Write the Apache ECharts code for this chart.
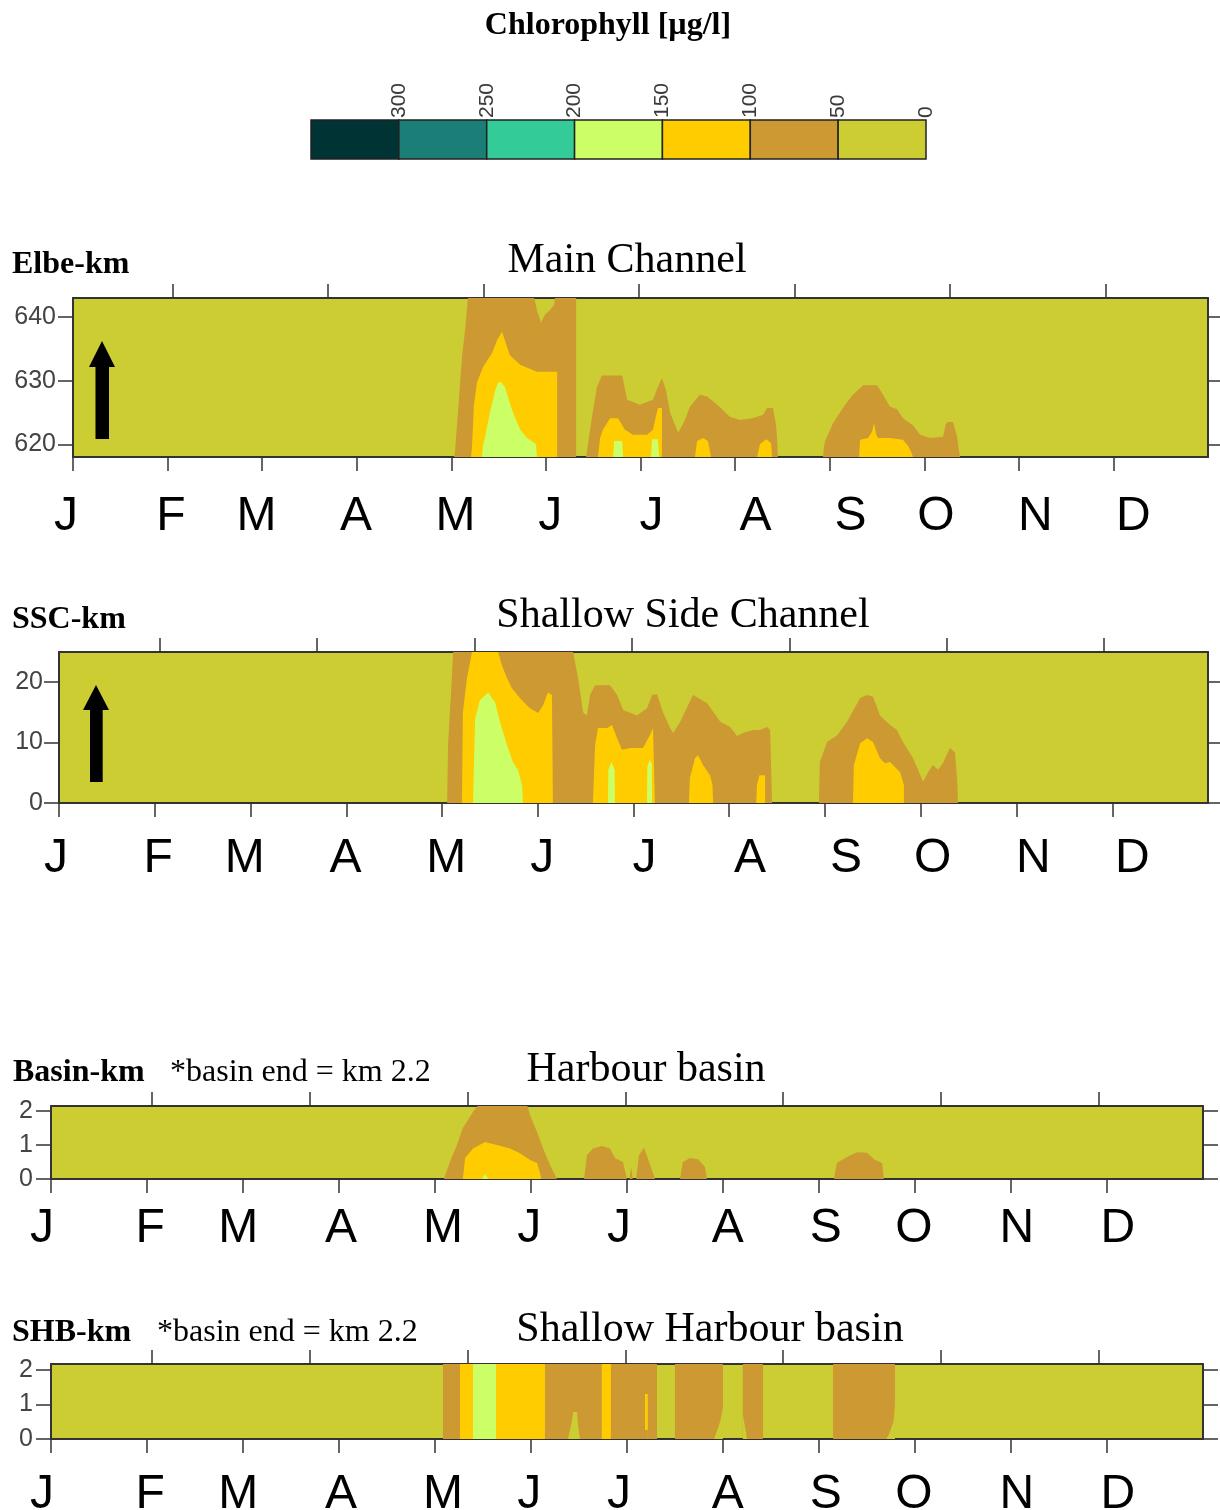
<!DOCTYPE html>
<html>
<head>
<meta charset="utf-8">
<script src="https://cdn.jsdelivr.net/npm/echarts@6/dist/echarts.min.js"></script>
<style>
  html, body { margin: 0; padding: 0; background: #ffffff; }
  #chart { width: 1220px; height: 1510px; }
</style>
</head>
<body>
<div id="chart"></div>
<script>
// ---- Colour classes (µg/l) ----
const legendLevels = ['300', '250', '200', '150', '100', '50', '0'];
const legendColors = ['#003333', '#1b7f77', '#33cc99', '#ccff66', '#ffcc00', '#cc9933', '#cccc33'];
const BASE = '#cccc33';   // 0-50
const C50 = '#cc9933';    // 50-100
const C100 = '#ffcc00';   // 100-150
const C150 = '#ccff66';   // 150-200

// ---- Time axis (day of year) ----
const monthNames = ['J', 'F', 'M', 'A', 'M', 'J', 'J', 'A', 'S', 'O', 'N', 'D'];
const monthTickDays = [0, 30.4, 60.8, 91.3, 121.7, 152.1, 182.5, 212.9, 243.3, 273.8, 304.2, 334.6];
const upperLabelDays = [0, 31.5, 59, 91, 123, 153.5, 186, 219.5, 250, 277.5, 309.5, 341];
const lowerLabelDays = [0, 31.4, 59.3, 91.9, 124.2, 151.5, 180, 214.4, 245.5, 273.4, 306, 338];
const topTickDays = [32, 82, 132, 182, 232, 282, 332];

// ---- Main Channel (Elbe-km), upper limit of each concentration class ----
const mainKmTicks = [620, 630, 640];
const mainBrown = [
  [122.5,618],[122.8,618.5],[123.8,625],[125.1,633.7],[126.1,638],[127.0,643],[148.3,643],[149.2,641.1],
  [150.5,639.1],[151.8,640.4],[153.4,641.1],[154.7,641.9],[155.0,643],[161.8,643],[161.8,618],
  [165.0,618],[165.3,619],[166.9,624.3],[168.5,629],[170.1,630.8],[176.6,630.8],[178.2,627],[182.3,626.2],
  [186.5,627],[188.1,629],[189.4,630.4],[190.7,628.5],[192.0,625],[194.6,621.8],[196.5,623.5],[198.4,625.9],
  [201.6,627.8],[203.9,627.5],[206.5,626.5],[209.0,625.4],[211.3,624.3],[214.5,623.8],[218.4,624.1],
  [221.9,624.6],[223.2,625.7],[225.1,625.7],[226.1,623],[226.4,621.1],[226.7,618],
  [241.2,618],[241.5,619.5],[241.8,620.4],[244.4,623.3],[248.3,626.2],[250.8,627.8],[254.1,629.3],
  [258.6,629.3],[260.5,627.8],[262.7,625.9],[265.0,625.5],[266.9,624.1],[270.1,623],[272.4,621.5],
  [275.6,621],[279.8,621.2],[280.7,623.2],[281.4,623.5],[283.0,623.5],[284.3,621.2],[284.9,619],[285.3,618]
];
const mainYellow = [
  [128.0,618],[128.3,619.5],[128.9,626],[129.9,629.7],[131.9,632.2],[134.8,634.4],[136.4,636.4],[138.0,637.7],
  [139.6,635.3],[140.5,634],[143.8,632.5],[149.2,631.4],[155.7,631.4],[155.7,618],
  [168.8,618],[169.5,621],[170.4,622.3],[172.7,624.1],[175.3,624.1],[177.5,622.3],[180.1,621.5],[184.6,621.5],
  [186.5,622.3],[187.5,624.5],[188.1,625.7],[189.4,625.7],[189.4,618],
  [200.0,618],[200.7,620.5],[202.6,621],[204.2,620.5],[205.2,618],
  [220.0,618],[220.9,620],[222.9,620.8],[224.5,620.2],[224.8,618],
  [252.8,618],[253.1,620.7],[255.7,621],[257.0,622],[257.6,623.3],[258.3,621.5],[258.9,621],[262.7,621],
  [266.9,620.7],[268.5,619.8],[269.8,618.5],[270.1,618]
];
const mainGreen = [
  [131.5,618],[131.9,620],[132.5,621.1],[134.1,625],[135.8,628.5],[136.7,629.7],[137.6,629.8],[138.9,629],
  [141.2,625.4],[143.8,622.3],[146.0,621],[147.9,620.4],[148.9,620],[149.2,618],
  [173.7,618],[174.0,620.5],[176.6,620.5],[176.9,618],
  [185.9,618],[186.2,620.8],[188.1,620.8],[188.5,618]
];

// ---- Shallow Side Channel (SSC-km) ----
const sscKmTicks = [0, 10, 20];
const sscBrown = [
  [123.3,0],[123.6,9.6],[124.8,20.7],[125.2,25],[163.3,25],[164.9,20.7],[166.5,15],[167.7,14.5],[168.7,17.9],
  [170.3,19.5],[175.0,19.5],[177.3,17.9],[179.2,15.4],[183.6,14.5],[186.8,15.7],[188.4,17.9],[190.0,18.0],
  [191.9,15],[194.1,12.4],[195.1,11.6],[197.3,13.4],[201.4,17.9],[205.9,16.5],[210.0,13.5],[213.2,12.6],
  [215.4,11.1],[217.3,11.6],[220.5,12.1],[222.7,12.1],[224.9,12.6],[225.9,12.1],[226.5,0],
  [241.4,0],[241.7,6.8],[244.0,10.1],[247.2,11.2],[250.3,13.4],[254.5,17.4],[256.7,17.9],[258.6,17.6],
  [260.8,14.5],[264.0,12.9],[266.2,12.1],[268.1,10.1],[271.3,7.4],[274.5,3.5],[276.1,5.1],[277.6,6.3],
  [279.2,5.5],[280.8,6.6],[283.0,9.1],[284.6,8.4],[285.3,4],[285.6,0]
];
const sscYellow = [
  [128.0,0],[128.3,15],[129.6,20.7],[131.2,25],[139.5,25],[140.7,22.8],[142.3,20.7],[143.9,19],[146.4,17.4],
  [149.6,15.7],[152.2,14.9],[153.8,16.2],[155.3,18.3],[156.6,17.9],[156.9,0],
  [169.6,0],[170.3,9.6],[171.2,12.4],[174.1,12.4],[175.7,12.9],[177.3,10.7],[178.8,8.8],[181.4,9.1],
  [185.5,9.1],[187.7,11.2],[188.7,12.4],[189.3,0],
  [200.1,0],[200.4,4.1],[202.0,7.4],[203.0,7.9],[204.6,6.3],[206.8,4.6],[207.6,3],[207.8,0],
  [221.5,0],[221.7,3.0],[222.5,4.6],[224.3,4.6],[224.3,0],
  [252.2,0],[252.5,6.3],[254.5,9.9],[256.7,10.7],[258.6,10.1],[260.8,7.4],[262.4,6.6],[264.0,6.8],
  [267.2,5.1],[268.4,3.0],[268.4,0]
];
const sscGreen = [
  [131.5,0],[132.2,14],[133.7,17],[136.3,18.3],[138.5,16.7],[140.1,13.4],[142.3,9.6],[144.2,6.8],[145.8,5.5],
  [147.1,3],[147.4,0],
  [174.4,0],[174.5,5.5],[175.5,6.8],[176.5,5.5],[176.6,0],
  [186.8,0],[186.9,6],[187.6,7.1],[188.3,6.5],[188.4,0]
];

// ---- Harbour basin (Basin-km) ----
const basinKmTicks = [0, 1, 2];
const basinBrown = [
  [124.5,0],[126.4,0.5],[128.6,1.0],[130.5,1.5],[133.7,1.97],[135.6,2.2],[150.8,2.2],[151.8,1.88],[154.0,1.38],
  [155.9,0.9],[158.1,0.41],[160.3,0],
  [168.9,0],[169.8,0.7],[171.7,0.9],[174.6,0.97],[177.1,0.9],[178.7,0.62],[181.2,0.5],[182.5,0],
  [183.3,0],[183.8,0.35],[184.3,0],
  [185.4,0],[186.3,0.7],[187.9,0.92],[189.5,0.5],[191.4,0],
  [199.3,0],[200.2,0.5],[202.5,0.62],[205.0,0.58],[207.2,0.35],[207.8,0],
  [248.1,0],[249.0,0.47],[252.2,0.65],[255.4,0.79],[258.5,0.77],[261.1,0.56],[263.3,0.47],[263.9,0]
];
const basinYellow = [
  [130.5,0],[131.2,0.62],[133.7,0.9],[137.5,1.09],[141.3,1.0],[145.4,0.9],[148.6,0.76],[151.8,0.56],
  [154.0,0.47],[154.9,0.2],[155.3,0]
];
const basinGreen = [[136.6,0],[137.5,0.15],[138.5,0]];

// ---- Shallow Harbour basin (SHB-km) ----
const shbKmTicks = [0, 1, 2];
const shbBrown = [
  [124.2,0],[124.2,2.2],[192.0,2.2],[192.0,0],
  [197.7,0],[197.7,2.2],[212.9,2.2],[212.9,0],
  [219.2,0],[219.2,2.2],[225.6,2.2],[225.6,0],
  [247.8,0],[247.8,2.2],[267.4,2.2],[267.4,0]
];
const shbYellow = [
  [129.6,0],[129.6,2.2],[156.5,2.2],[156.5,0],
  [174.5,0],[174.5,2.2],[177.4,2.2],[177.4,0],
  [188.2,0],[188.2,1.3],[189.1,1.3],[189.1,0]
];
const shbGreen = [[133.7,0],[133.7,2.2],[141.0,2.2],[141.0,0]];
const shbLow = [
  [163.8,0],[165.1,0.55],[165.5,0.78],[166.7,0.78],[167.0,0.4],[167.6,0],
  [210.1,0],[210.7,0.15],[212.0,0.5],[212.9,0.9],[212.9,0],
  [219.2,0],[219.2,0.7],[220.2,0.2],[220.5,0],
  [264.6,0],[265.6,0.15],[266.9,0.5],[267.4,1.0],[267.4,0]
];
const shbBrownLow = [[188.2,0],[188.2,0.26],[189.1,0.26],[189.1,0]];

// ---- Panel layout ----
const AXIS = '#333333';
const panels = [
  { left: 73, top: 298, width: 1135, height: 159, min: 618, max: 643, ticks: mainKmTicks,
    labelDays: upperLabelDays, labelMargin: 17, monthMargin: 36, jShift: 14,
    layers: [[mainBrown, C50], [mainYellow, C100], [mainGreen, C150]] },
  { left: 59, top: 652, width: 1149, height: 151, min: 0, max: 25, ticks: sscKmTicks,
    labelDays: upperLabelDays, labelMargin: 16, monthMargin: 32, jShift: 6,
    layers: [[sscBrown, C50], [sscYellow, C100], [sscGreen, C150]] },
  { left: 51, top: 1106, width: 1152, height: 73, min: 0, max: 2.15, ticks: basinKmTicks,
    labelDays: lowerLabelDays, labelMargin: 18, monthMargin: 26, jShift: 18,
    layers: [[basinBrown, C50], [basinYellow, C100], [basinGreen, C150]] },
  { left: 51, top: 1364, width: 1152, height: 75, min: 0, max: 2.17, ticks: shbKmTicks,
    labelDays: lowerLabelDays, labelMargin: 18, monthMargin: 32, jShift: 18,
    layers: [[shbBrown, C50], [shbYellow, C100], [shbGreen, C150], [shbLow, BASE], [shbBrownLow, C50]] }
];

const grid = [], xAxis = [], yAxis = [], series = [];
const monthFont = { fontFamily: 'Liberation Sans', fontSize: 48, color: '#000000' };

panels.forEach((p, i) => {
  grid.push({ left: p.left, top: p.top, width: p.width, height: p.height,
    show: true, backgroundColor: BASE, borderWidth: 0, containLabel: false, outerBoundsMode: 'none' });
  const line = { show: true, onZero: false, lineStyle: { color: AXIS, width: 2 } };
  xAxis.push({
    gridIndex: i, type: 'value', position: 'bottom', min: 0, max: 365,
    axisLine: line,
    axisTick: { show: true, length: 14, customValues: monthTickDays, lineStyle: { color: AXIS, width: 1.5 } },
    axisLabel: Object.assign({
      show: true, customValues: p.labelDays, margin: p.monthMargin,
      formatter: (v) => {
        let best = 0;
        p.labelDays.forEach((d, k) => { if (Math.abs(d - v) < Math.abs(p.labelDays[best] - v)) best = k; });
        return best === 0 ? '{first|' + monthNames[0] + '}' : monthNames[best];
      },
      rich: { first: Object.assign({ padding: [0, p.jShift, 0, 0] }, monthFont) }
    }, monthFont),
    splitLine: { show: false }
  });
  xAxis.push({
    gridIndex: i, type: 'value', position: 'top', min: 0, max: 365,
    axisLine: line,
    axisTick: { show: true, length: 14, customValues: topTickDays, lineStyle: { color: AXIS, width: 1.5 } },
    axisLabel: { show: false }, splitLine: { show: false }
  });
  yAxis.push({
    gridIndex: i, type: 'value', position: 'left', min: p.min, max: p.max,
    axisLine: line,
    axisTick: { show: true, length: 15, customValues: p.ticks, lineStyle: { color: AXIS, width: 1.5 } },
    axisLabel: { show: true, customValues: p.ticks, margin: p.labelMargin,
      fontFamily: 'Liberation Sans', fontSize: 25, color: '#444444' },
    splitLine: { show: false }
  });
  yAxis.push({
    gridIndex: i, type: 'value', position: 'right', min: p.min, max: p.max,
    axisLine: line,
    axisTick: { show: true, length: 15, customValues: p.ticks, lineStyle: { color: AXIS, width: 1.5 } },
    axisLabel: { show: false }, splitLine: { show: false }
  });
  p.layers.forEach(([data, color]) => {
    series.push({
      type: 'line', xAxisIndex: 2 * i, yAxisIndex: 2 * i, data: data,
      symbol: 'none', showSymbol: false, smooth: false, clip: true, silent: true,
      lineStyle: { width: 0, opacity: 0 },
      areaStyle: { color: color, opacity: 1, origin: 'start' },
      z: 2
    });
  });
});

// ---- Colour bar ----
const cbIndex = panels.length;
grid.push({ left: 311, top: 120, width: 615, height: 39, show: false, containLabel: false, outerBoundsMode: 'none' });
xAxis.push({
  gridIndex: cbIndex, type: 'value', position: 'top', min: 0, max: 7,
  axisLine: { show: false }, axisTick: { show: false }, splitLine: { show: false },
  axisLabel: {
    show: true, customValues: [1, 2, 3, 4, 5, 6, 7], rotate: 90, margin: 2,
    fontFamily: 'Liberation Sans', fontSize: 21, color: '#3a3a3a',
    formatter: (v) => legendLevels[Math.round(v) - 1]
  }
});
yAxis.push({ gridIndex: cbIndex, type: 'value', min: 0, max: 1, show: false });
series.push({
  type: 'custom', xAxisIndex: 2 * cbIndex, yAxisIndex: 2 * cbIndex, silent: true,
  data: legendColors.map((c, k) => [k, k + 1]),
  encode: { x: [0, 1] },
  renderItem: (params, api) => {
    const a = api.coord([api.value(0), 1]);
    const b = api.coord([api.value(1), 0]);
    return { type: 'rect', shape: { x: a[0], y: a[1], width: b[0] - a[0], height: b[1] - a[1] },
      style: { fill: legendColors[params.dataIndex], stroke: '#222222', lineWidth: 1.5 } };
  }
});

// ---- Headings, axis names, flow arrows ----
function txt(x, y, text, font, align) {
  return { type: 'text', x: x, y: y, silent: true,
    style: { text: text, font: font, fill: '#000000', textAlign: align || 'left', textVerticalAlign: 'middle' } };
}
const serifBold = 'bold 32px "Liberation Serif"';
const serif = '32px "Liberation Serif"';
const serifBig = '42px "Liberation Serif"';
const graphic = [
  txt(608, 26, 'Chlorophyll [µg/l]', 'bold 32px "Liberation Serif"', 'center'),
  txt(12, 265, 'Elbe-km', serifBold),
  txt(627, 261, 'Main Channel', serifBig, 'center'),
  txt(12, 620, 'SSC-km', serifBold),
  txt(683, 616, 'Shallow Side Channel', serifBig, 'center'),
  txt(13, 1073, 'Basin-km', serifBold),
  txt(170, 1073, '*basin end = km 2.2', serif),
  txt(646, 1070, 'Harbour basin', serifBig, 'center'),
  txt(12, 1333, 'SHB-km', serifBold),
  txt(157, 1333, '*basin end = km 2.2', serif),
  txt(710, 1330, 'Shallow Harbour basin', serifBig, 'center'),
  { type: 'polygon', silent: true, z: 10,
    shape: { points: [[102, 341], [115, 367], [109, 367], [109, 439], [95.5, 439], [95.5, 367], [89, 367]] },
    style: { fill: '#000000' } },
  { type: 'polygon', silent: true, z: 10,
    shape: { points: [[96, 685], [109, 710], [102.7, 710], [102.7, 782], [90, 782], [90, 710], [83, 710]] },
    style: { fill: '#000000' } }
];

const chart = echarts.init(document.getElementById('chart'), null, { renderer: 'canvas' });
chart.setOption({
  animation: false,
  backgroundColor: '#ffffff',
  grid: grid, xAxis: xAxis, yAxis: yAxis, series: series, graphic: graphic
});
</script>
</body>
</html>
